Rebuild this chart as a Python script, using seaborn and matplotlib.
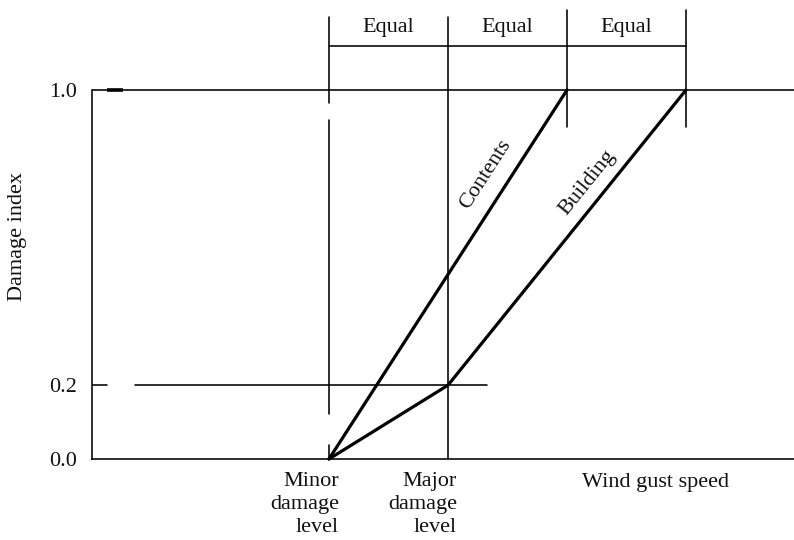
import matplotlib
matplotlib.use("Agg")
import matplotlib.pyplot as plt
import matplotlib.transforms as mtransforms
import seaborn as sns
import pandas as pd

# ---- data ----
contents_x = [1, 3]
contents_y = [0.0, 1.0]
building_x = [1, 2, 4]
building_y = [0.0, 0.2, 1.0]
level_x = [1, 2, 3, 4]            # minor, major, contents-full, building-full
y_ticks = [0.0, 0.2, 1.0]
y_tick_labels = ["0.0", "0.2", "1.0"]
level_labels = ["Minor\ndamage\nlevel", "Major\ndamage\nlevel"]
equal_labels = ["Equal", "Equal", "Equal"]

df = pd.DataFrame({
    "speed": contents_x + building_x,
    "damage": contents_y + building_y,
    "series": ["Contents"] * len(contents_x) + ["Building"] * len(building_x),
})

sns.set_theme(style="white")
plt.rcParams["font.family"] = ["Liberation Serif", "DejaVu Serif"]
FS = 16
W, H = 794, 540
fig = plt.figure(figsize=(W / 100, H / 100), dpi=100)
ax = fig.add_axes([92 / W, 81 / H, 1 - 92 / W, 459 / H])
px = 119.0  # pixels per x unit
ax.set_xlim(1 - 237 / px, 1 + (W - 329) / px)
ax.set_ylim(0, 459 / 369)

thin = 1.15
thick = 2.3
K = "#000000"
TK = "#111111"

sns.lineplot(data=df, x="speed", y="damage", hue="series", units="series",
             estimator=None, sort=False, palette={"Contents": K, "Building": K},
             linewidth=thick, legend=False, ax=ax, clip_on=False)

# reference lines
ax.axhline(1.0, color=K, lw=thin)
ax.plot([ax.get_xlim()[0], 1 - 222 / px], [0.2, 0.2], color=K, lw=thin)
ax.plot([1 - 194 / px, 1 + 158 / px], [0.2, 0.2], color=K, lw=thin)
ax.plot([1 - 222 / px, 1 - 206 / px], [1.0, 1.0], color=K, lw=2.6, solid_capstyle="butt")

# vertical level lines
ax.plot([level_x[0]] * 2, [1.198, 0.965], color=K, lw=thin)
ax.plot([level_x[0]] * 2, [0.919, 0.122], color=K, lw=thin)
ax.plot([level_x[0]] * 2, [0.038, 0.0], color=K, lw=thin)
ax.plot([level_x[1]] * 2, [1.198, 0.0], color=K, lw=thin)
for xv in level_x[2:]:
    ax.plot([xv, xv], [1.217, 0.900], color=K, lw=thin)
ax.plot([level_x[0], level_x[3]], [1.119, 1.119], color=K, lw=thin)
for i, lab in enumerate(equal_labels):
    ax.text((level_x[i] + level_x[i + 1]) / 2, 1.170, lab, ha="center", va="center",
            fontsize=FS, color=TK)

# line labels
ax.text(1 + 157 / px, (459 - 174) / 369, "Contents", rotation=57.2, rotation_mode="anchor",
        ha="center", va="center", fontsize=FS, color=TK)
ax.text(1 + 258.5 / px, (459 - 182.5) / 369, "Building", rotation=51.1, rotation_mode="anchor",
        ha="center", va="center", fontsize=FS, color=TK)

# spines & ticks
for s in ["top", "right"]:
    ax.spines[s].set_visible(False)
for s in ["left", "bottom"]:
    ax.spines[s].set_color(K)
    ax.spines[s].set_linewidth(thin)
ax.spines["left"].set_bounds(0, 1)
ax.set_yticks(y_ticks)
ax.set_yticklabels(y_tick_labels, fontsize=FS)
ax.set_xticks([])
ax.tick_params(axis="y", length=0, pad=11, colors=TK)
ax.set_xlabel("")
ax.set_ylabel("")

# x-axis labels
trans = mtransforms.blended_transform_factory(ax.transData, fig.transFigure)
ax.text(1 + 10 / px, 1 - 472 / H, level_labels[0], ha="right", va="top",
        multialignment="right", fontsize=FS, transform=trans, linespacing=1.27, color=TK)
ax.text(2 + 9 / px, 1 - 472 / H, level_labels[1], ha="right", va="top",
        multialignment="right", fontsize=FS, transform=trans, linespacing=1.27, color=TK)
ax.text(1 + 326 / px, 1 - 482 / H, "Wind gust speed", ha="center", va="center",
        fontsize=FS, transform=trans, color=TK)

fig.text(18 / W, 1 - 236 / H, "Damage index", rotation=90, ha="center", va="center",
         fontsize=FS, color=TK)

fig.savefig("out.png", dpi=100)
